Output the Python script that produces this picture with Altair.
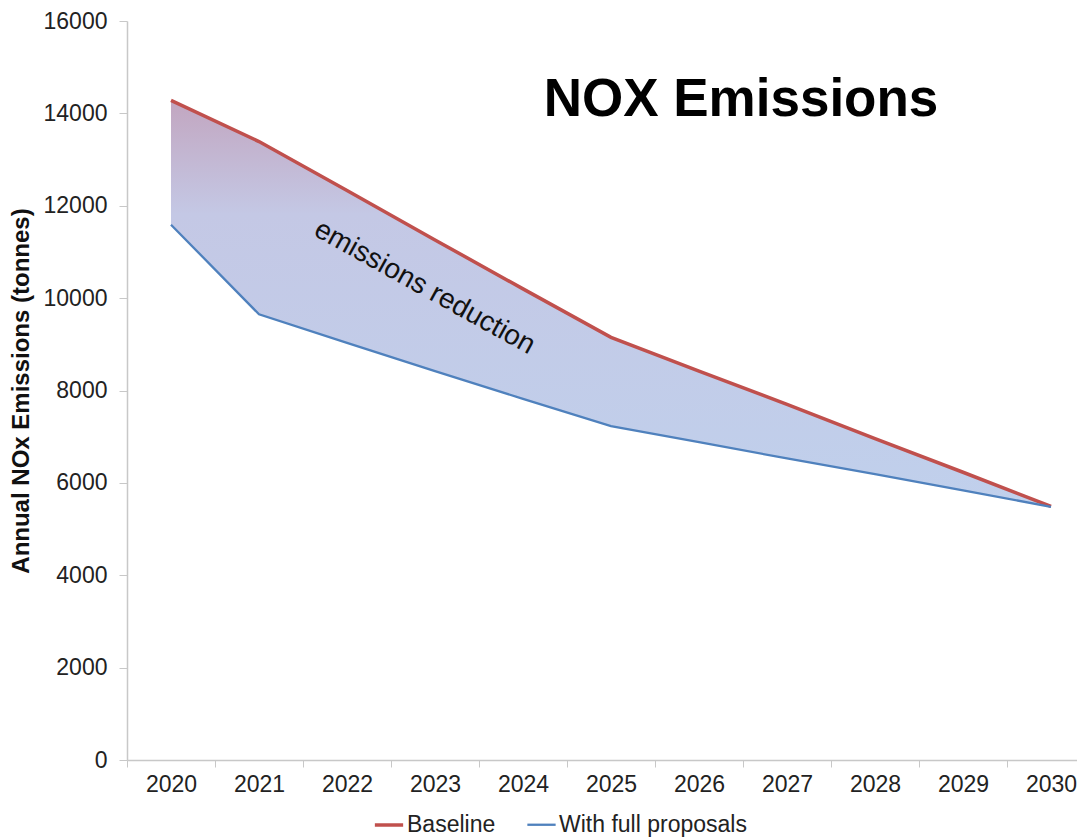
import altair as alt
import pandas as pd

years = [str(y) for y in range(2020, 2031)]
baseline = [14280, 13390, 12330, 11260, 10200, 9150, 8420, 7700, 6960, 6230, 5490]
proposals = [11590, 9650, 9030, 8420, 7820, 7230, 6880, 6530, 6190, 5840, 5480]
series_names = ["Baseline", "With full proposals"]
series_colors = ["#c0504d", "#4f81bd"]

wide = pd.DataFrame({"year": years, "Baseline": baseline, "With full proposals": proposals})
long = wide.melt(id_vars="year", var_name="series", value_name="value")

FONT = "Liberation Sans"
xscale = alt.Scale(domain=years, range=[0, 968], paddingInner=0, paddingOuter=0)
yscale = alt.Scale(domain=[0, 16000])

xenc = alt.X("year:N", scale=xscale, sort=years,
             axis=alt.Axis(title=None, labelAngle=0, tickBand="extent", labelFontSize=23,
                           labelColor="#222", labelFont=FONT, domainColor="#c8c8c8",
                           tickColor="#c8c8c8", tickSize=7, labelPadding=6, domainWidth=1.5))

area = alt.Chart(wide).mark_area(
    color=alt.Gradient(
        gradient="linear",
        stops=[alt.GradientStop(color="#c2a6c0", offset=0),
               alt.GradientStop(color="#c4c8e5", offset=0.28),
               alt.GradientStop(color="#c0d0ec", offset=1)],
        x1=0, x2=0, y1=0, y2=1)
).encode(
    x=xenc,
    y=alt.Y("Baseline:Q", scale=yscale,
            axis=alt.Axis(title="Annual NOx Emissions (tonnes)", titleFontSize=24, titleFontWeight="bold",
                          titleFont=FONT, titleColor="#111", labelFontSize=23, labelFont=FONT,
                          labelColor="#222", values=list(range(0, 16001, 2000)), format="d", grid=False,
                          domainColor="#c8c8c8", tickColor="#c8c8c8", tickSize=8, labelPadding=12,
                          titlePadding=10, domainWidth=1.5)),
    y2="With full proposals:Q",
)

lines = alt.Chart(long).mark_line().encode(
    x=alt.X("year:N", scale=xscale, sort=years),
    y=alt.Y("value:Q", scale=yscale),
    color=alt.Color("series:N", scale=alt.Scale(domain=series_names, range=series_colors),
                    legend=alt.Legend(title=None, orient="none", direction="horizontal",
                                      legendX=246, legendY=788, symbolType="stroke",
                                      symbolStrokeWidth=3, symbolSize=800, labelFontSize=23,
                                      labelFont=FONT, labelColor="#222", columnPadding=26,
                                      labelOffset=2, labelLimit=0)),
    strokeWidth=alt.StrokeWidth("series:N", scale=alt.Scale(domain=series_names, range=[3.5, 2.3]),
                                legend=None),
)

ann_df = pd.DataFrame({"year": ["2023"], "value": [10100], "label": ["emissions reduction"]})
ann = alt.Chart(ann_df).mark_text(fontSize=28, font=FONT, angle=29, color="#111", dx=-12).encode(
    x=alt.X("year:N", scale=xscale, sort=years), y=alt.Y("value:Q", scale=yscale), text="label:N")

title_df = pd.DataFrame({"year": ["2027"], "value": [14300], "label": ["NOX Emissions"]})
title = alt.Chart(title_df).mark_text(fontSize=53, font=FONT, fontWeight="bold", color="#000", dx=-46).encode(
    x=alt.X("year:N", scale=xscale, sort=years), y=alt.Y("value:Q", scale=yscale), text="label:N")

chart = alt.layer(area, lines, ann, title).properties(
    width=950, height=739, background="white",
    autosize=alt.AutoSizeParams(type="none"),
    padding={"left": 119, "top": 13, "right": 0, "bottom": 80},
).configure_view(stroke=None)

chart.save("out.html", embed_options={"renderer": "svg", "actions": False})
